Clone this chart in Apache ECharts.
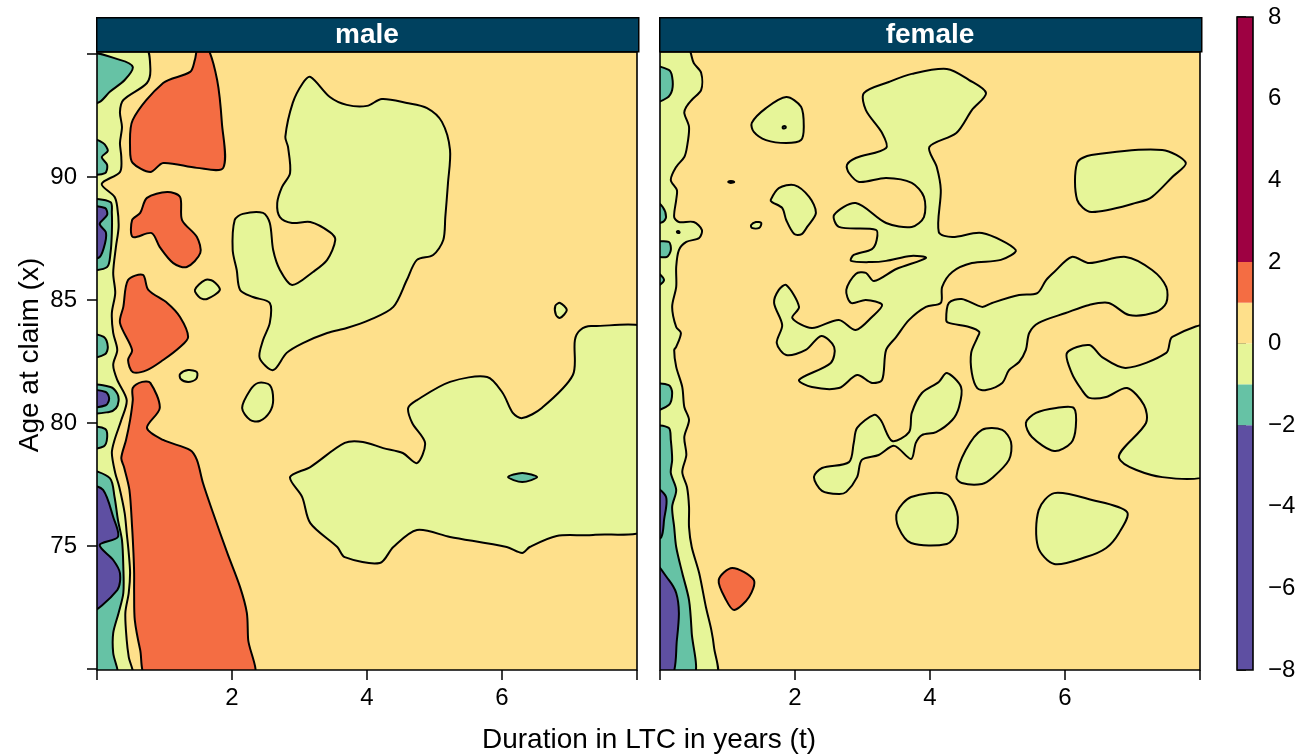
<!DOCTYPE html>
<html><head><meta charset="utf-8">
<script src="https://cdn.jsdelivr.net/npm/echarts@6/dist/echarts.min.js"></script>
<style>html,body{margin:0;padding:0;background:#fff}#c{width:1312px;height:756px}</style>
</head><body><div id="c"></div>
<script>
// ---------- levels / legend ----------
const levelBreaks = [-8, -2, -1, 0, 1, 2, 8];
const levelColors = ['#5E4FA2', '#66C2A5', '#E6F598', '#FEE08B', '#F46D43', '#9E0142'];
const colorbarTicks = [-8, -6, -4, -2, 0, 2, 4, 6, 8];
const panelNames = ['male', 'female'];
const xTickValues = [0, 2, 4, 6, 8];
const xLabelValues = [2, 4, 6];
const yTickValues = [70, 75, 80, 85, 90, 95];
const yLabelValues = [75, 80, 85, 90];
const xRange = [0, 8];
const yRange = [69.96, 95.08];

// ---------- male contour regions [t, age] ----------
const maleStripBand = [[-0.1,95.3],[0.71,95.3],[0.79,94.43],[0.74,93.82],[0.39,93.13],[0.34,92.64],[0.37,92.03],[0.34,91.38],[0.36,90.81],[0.34,90.20],[0.07,89.72],[0.26,89.19],[0.30,88.78],[0.32,87.97],[0.28,87.15],[0.24,86.10],[0.27,85.28],[0.22,84.47],[0.24,83.66],[0.30,82.97],[0.24,82.36],[0.30,81.75],[0.44,80.93],[0.36,80.12],[0.26,79.31],[0.22,78.78],[0.27,77.97],[0.33,77.40],[0.41,76.34],[0.44,75.53],[0.47,74.72],[0.49,73.90],[0.47,73.09],[0.42,72.28],[0.44,71.18],[0.47,70.49],[0.52,69.7],[-0.1,69.7]];
const maleTeal1 = [[-0.1,94.96],[0.34,94.76],[0.53,94.47],[0.41,93.94],[0.19,93.46],[0.04,93.05],[-0.1,93.01]];
const maleTeal2 = [[-0.1,91.54],[0.09,91.38],[0.16,91.06],[0.07,90.81],[0.15,90.49],[0.12,90.16],[-0.1,90.16]];
const maleTeal3 = [[-0.1,89.0],[0.20,88.98],[0.22,88.54],[0.22,87.72],[0.20,86.91],[0.15,86.34],[-0.1,86.30]];
const maleTeal4 = [[-0.1,83.58],[0.10,83.50],[0.16,83.10],[0.12,82.80],[-0.1,82.68]];
const maleTeal5 = [[-0.1,81.50],[0.20,81.46],[0.30,81.20],[0.32,80.90],[0.28,80.60],[0.18,80.45],[-0.1,80.45]];
const maleTeal6 = [[-0.1,79.80],[0.12,79.76],[0.15,79.40],[0.10,79.05],[-0.1,79.00]];
const maleTeal7 = [[-0.1,77.97],[0.19,77.76],[0.26,76.99],[0.31,76.06],[0.37,75.24],[0.39,74.15],[0.39,73.09],[0.32,72.28],[0.24,71.46],[0.24,70.65],[0.30,69.7],[-0.1,69.7]];
const malePurple1 = [[-0.1,88.74],[0.12,88.74],[0.15,88.46],[0.04,88.09],[0.13,87.76],[0.12,87.32],[0.04,86.75],[-0.1,86.71]];
const malePurple2 = [[-0.1,81.30],[0.13,81.26],[0.18,81.00],[0.13,80.72],[-0.1,80.68]];
const malePurple3 = [[-0.1,77.40],[0.09,77.28],[0.24,76.18],[0.31,75.37],[0.04,75.04],[0.24,74.43],[0.34,73.90],[0.30,73.21],[-0.1,72.40]];
const maleOrange1 = [[1.50,95.3],[1.63,95.3],[1.78,93.94],[1.85,92.20],[1.87,90.37],[1.48,90.37],[0.98,90.57],[0.79,90.20],[0.53,90.57],[0.49,91.10],[0.53,92.32],[0.98,93.82],[1.38,94.27],[1.45,94.76]];
const maleOrange2 = [[0.52,88.25],[0.64,88.54],[0.74,89.15],[1.04,89.39],[1.23,89.19],[1.26,88.25],[1.48,87.56],[1.53,86.91],[1.33,86.34],[1.13,86.50],[0.93,87.15],[0.81,87.72],[0.53,87.56]];
const maleOrange3 = [[0.46,85.81],[0.68,86.02],[0.76,85.41],[1.04,84.88],[1.23,84.31],[1.35,83.50],[1.23,83.09],[0.98,82.56],[0.74,82.15],[0.53,82.07],[0.46,82.56],[0.52,82.97],[0.34,84.07],[0.39,84.72]];
const maleOrange4 = [[0.67,81.67],[0.79,81.63],[0.93,80.61],[0.74,79.80],[0.98,79.31],[1.38,78.90],[1.48,78.50],[1.57,77.56],[1.72,76.34],[1.93,74.72],[2.12,73.33],[2.22,72.28],[2.24,71.18],[2.31,69.7],[0.74,69.7],[0.64,70.77],[0.56,71.99],[0.55,73.09],[0.55,73.90],[0.54,74.72],[0.52,75.77],[0.48,77.28],[0.40,78.21],[0.36,78.58],[0.43,79.31],[0.49,80.12],[0.53,80.93],[0.53,81.42]];
const maleBlob1 = [[1.45,85.41],[1.60,85.81],[1.72,85.77],[1.82,85.41],[1.63,85.04],[1.53,85.08]];
const maleBlob2 = [[1.23,81.99],[1.35,82.15],[1.48,82.07],[1.47,81.79],[1.35,81.67],[1.24,81.79]];
const maleBlob3 = [[2.15,80.61],[2.27,81.34],[2.39,81.63],[2.56,81.54],[2.61,80.93],[2.56,80.45],[2.41,80.08],[2.27,80.12]];
const maleBlob4 = [[6.79,84.76],[6.86,84.88],[6.96,84.59],[6.86,84.27],[6.80,84.39]];
const maleBigUpper = [[3.16,94.07],[3.45,93.25],[3.70,92.93],[4.00,92.89],[4.22,93.17],[4.59,93.01],[4.89,92.80],[5.11,92.24],[5.23,91.10],[5.20,89.76],[5.16,88.37],[5.13,87.44],[4.98,86.83],[4.74,86.63],[4.59,85.81],[4.39,84.72],[4.04,84.19],[3.70,83.86],[3.41,83.66],[3.05,83.25],[2.81,82.85],[2.61,82.15],[2.41,82.64],[2.46,83.37],[2.56,84.07],[2.56,84.88],[2.31,85.12],[2.12,85.41],[2.07,86.22],[2.01,87.03],[2.04,88.25],[2.16,88.50],[2.46,88.54],[2.56,88.13],[2.61,87.03],[2.71,86.22],[2.89,85.61],[3.20,86.14],[3.41,86.63],[3.53,87.44],[3.45,87.76],[3.16,88.17],[2.89,88.13],[2.71,88.37],[2.67,88.94],[2.74,89.59],[2.86,90.16],[2.83,91.22],[2.79,91.63],[2.90,93.01],[3.05,93.82]];
const maleBigLower = [[2.86,77.80],[3.16,78.21],[3.67,79.19],[3.94,79.23],[4.24,78.98],[4.53,78.78],[4.74,78.37],[4.86,79.19],[4.67,80.00],[4.61,80.61],[4.74,80.93],[5.23,81.67],[5.78,81.87],[6.01,81.22],[6.16,80.41],[6.30,80.20],[6.59,80.61],[7.05,81.95],[7.08,83.37],[7.16,83.78],[7.33,83.94],[8.2,83.66],[8.2,75.85],[7.35,75.45],[6.81,75.41],[6.41,74.96],[6.30,74.72],[6.07,74.96],[5.23,75.37],[4.74,75.65],[4.39,74.96],[4.19,74.31],[3.67,74.55],[3.56,74.96],[3.16,75.93],[3.04,76.99]];
const maleTealDiamond = [[6.09,77.80],[6.30,77.97],[6.52,77.80],[6.30,77.60]];

// ---------- female contour regions [t, age] ----------
const femaleStripBand = [[-0.1,95.3],[0.40,95.3],[0.50,94.63],[0.61,94.23],[0.61,93.54],[0.47,93.13],[0.39,92.85],[0.36,92.60],[0.43,92.03],[0.40,91.22],[0.36,90.81],[0.24,90.41],[0.16,89.88],[0.25,89.47],[0.24,89.07],[0.21,88.37],[0.28,88.17],[0.50,88.17],[0.62,87.85],[0.58,87.52],[0.39,87.36],[0.28,87.03],[0.24,86.34],[0.24,85.53],[0.18,84.72],[0.24,83.90],[0.31,83.66],[0.24,83.09],[0.21,82.97],[0.24,82.28],[0.33,81.46],[0.36,80.65],[0.43,80.12],[0.36,79.43],[0.39,78.70],[0.33,78.01],[0.40,77.40],[0.43,76.59],[0.43,75.77],[0.47,74.96],[0.58,73.90],[0.68,72.52],[0.76,71.59],[0.80,70.89],[0.83,69.7],[-0.1,69.7]];
const femaleTeal1 = [[-0.1,94.47],[0.13,94.35],[0.18,94.07],[0.18,93.54],[0.10,93.21],[-0.1,93.05]];
const femaleTeal2 = [[-0.1,89.07],[0.04,88.78],[0.09,88.37],[0.04,88.17],[-0.1,88.13]];
const femaleTeal3 = [[-0.1,87.30],[0.13,87.36],[0.16,87.03],[0.10,86.75],[-0.1,86.85]];
const femaleTeal4 = [[-0.1,86.22],[0.06,85.81],[-0.1,85.49]];
const femaleTeal5 = [[-0.1,81.54],[0.13,81.54],[0.18,81.22],[0.13,80.73],[-0.1,80.53]];
const femaleTeal6 = [[-0.1,79.80],[0.13,79.80],[0.16,79.31],[0.18,78.50],[0.16,77.97],[0.24,77.28],[0.18,76.59],[0.21,75.77],[0.24,74.96],[0.33,73.90],[0.43,72.80],[0.47,71.46],[0.50,69.7],[-0.1,69.7]];
const femaleTealSpeck = [[0.25,87.78],[0.28,87.80],[0.29,87.74],[0.26,87.73]];
const femalePurple1 = [[-0.1,77.40],[0.09,76.99],[0.06,76.06],[0.02,75.37],[-0.1,75.24]];
const femalePurple2 = [[-0.1,74.31],[0.13,73.62],[0.24,73.09],[0.28,72.28],[0.25,71.18],[0.18,69.7],[-0.1,69.7]];
const femaleOrange1 = [[0.87,73.62],[1.07,74.11],[1.39,73.62],[1.32,72.93],[1.10,72.40],[0.98,72.80]];
const femaleBlob1 = [[1.36,92.20],[1.57,92.80],[1.87,93.25],[2.09,92.85],[2.13,92.03],[2.09,91.50],[1.87,91.38],[1.57,91.50],[1.39,91.83]];
const femaleBlob1Dot = [[1.82,92.05],[1.86,92.06],[1.86,91.99],[1.82,91.98]];
const femaleDot = [[1.01,89.80],[1.05,89.84],[1.10,89.80],[1.05,89.76]];
const femaleSmall = [[1.35,88.05],[1.42,88.17],[1.50,88.13],[1.47,87.93],[1.36,87.93]];
const femaleBlob2 = [[1.64,89.07],[1.76,89.55],[1.99,89.67],[2.21,89.19],[2.31,88.54],[2.18,87.97],[2.10,87.68],[1.99,87.68],[1.87,88.25],[1.81,88.74],[1.66,88.98]];
const femaleBranch = [[3.02,93.41],[3.39,93.86],[3.73,94.19],[4.25,94.39],[4.58,93.94],[4.83,93.41],[4.62,92.72],[4.39,91.79],[3.99,91.22],[4.10,90.41],[4.16,89.47],[4.13,87.76],[4.33,87.56],[4.77,87.72],[5.27,87.03],[5.05,86.63],[4.62,86.50],[4.33,86.14],[4.18,85.53],[4.16,84.88],[3.94,84.72],[3.69,84.19],[3.50,83.50],[3.35,82.97],[3.29,81.75],[3.14,81.63],[2.92,81.95],[2.65,81.42],[2.25,81.46],[2.06,81.75],[2.53,82.44],[2.58,83.09],[2.39,83.54],[2.16,82.97],[1.87,82.76],[1.73,83.25],[1.81,83.98],[1.69,84.88],[1.76,85.41],[1.87,85.61],[2.06,84.72],[1.96,84.27],[2.25,83.86],[2.65,84.19],[2.90,83.78],[3.14,84.31],[3.29,84.80],[3.05,85.00],[2.83,84.88],[2.76,85.41],[2.90,86.06],[3.05,86.10],[3.17,85.77],[3.50,86.26],[3.94,86.71],[3.72,86.79],[3.35,86.59],[3.14,86.54],[2.83,86.59],[2.87,86.83],[3.14,87.07],[3.21,87.44],[3.20,87.85],[2.65,87.97],[2.58,88.46],[2.90,88.94],[3.35,88.13],[3.73,87.97],[3.91,88.37],[3.91,89.19],[3.73,89.76],[3.35,89.96],[2.95,89.80],[2.80,90.16],[2.77,90.49],[2.90,90.77],[3.35,91.18],[3.29,91.79],[3.05,92.72]];
const femaleTopRight = [[6.18,90.57],[6.39,90.89],[7.44,91.10],[7.79,90.57],[7.59,90.00],[7.29,89.19],[7.10,88.98],[6.39,88.58],[6.18,89.07]];
const femaleMidRight = [[4.24,84.19],[4.28,84.88],[4.47,85.04],[4.77,84.72],[4.92,84.88],[5.32,85.20],[5.59,85.28],[5.72,85.81],[5.84,86.14],[6.10,86.75],[6.36,86.50],[6.90,86.75],[7.29,86.22],[7.50,85.53],[7.50,84.88],[7.35,84.51],[6.95,84.39],[6.65,84.88],[6.36,84.80],[6.01,84.47],[5.61,84.07],[5.47,83.66],[5.42,82.97],[5.32,82.48],[5.17,82.15],[5.07,81.63],[4.83,81.34],[4.70,81.42],[4.62,82.03],[4.61,82.85],[4.70,83.46],[4.73,83.70],[4.58,83.90],[4.28,84.07]];
const femaleEdgeRight = [[6.03,82.85],[6.36,83.17],[6.55,82.68],[6.90,82.24],[7.50,82.85],[7.59,83.50],[8.2,83.90],[8.2,78.09],[7.44,77.80],[6.80,78.58],[7.20,80.00],[7.17,80.73],[6.92,81.42],[6.61,81.06],[6.36,81.02],[6.25,81.34],[6.10,82.03]];
const femaleTwin = [[3.44,79.27],[3.69,79.63],[3.73,80.41],[3.88,81.22],[4.13,81.67],[4.25,82.03],[4.46,81.46],[4.43,80.65],[4.33,80.12],[4.09,79.63],[3.88,79.51],[3.79,79.19],[3.72,78.54],[3.47,79.07],[3.24,78.70],[2.99,78.50],[2.92,77.80],[2.76,77.20],[2.65,77.11],[2.40,77.24],[2.28,77.80],[2.40,78.17],[2.80,78.41],[2.87,79.19],[2.92,79.80],[3.17,80.33],[3.27,80.12]];
const femaleBlob8 = [[4.39,77.80],[4.53,78.90],[4.77,79.72],[5.07,79.72],[5.20,79.23],[5.17,78.50],[4.92,77.76],[4.77,77.52],[4.47,77.56]];
const femaleBlob9 = [[5.42,80.00],[5.57,80.41],[5.87,80.61],[6.13,80.61],[6.16,79.84],[6.09,79.19],[5.84,78.86],[5.51,79.43]];
const femaleBlob10 = [[3.51,76.38],[3.72,76.99],[4.24,77.11],[4.40,76.38],[4.39,75.53],[4.25,75.08],[3.72,75.12],[3.53,75.77]];
const femaleBlob11 = [[5.61,76.46],[5.84,77.15],[6.40,76.87],[6.92,76.38],[6.80,75.53],[6.61,74.92],[6.31,74.55],[5.84,74.27],[5.60,74.96]];

// each layer: [lower break of its band, region]
const maleLayers = [
  [-1, maleStripBand],
  [-2, maleTeal1], [-2, maleTeal2], [-2, maleTeal3], [-2, maleTeal4], [-2, maleTeal5], [-2, maleTeal6], [-2, maleTeal7],
  [-8, malePurple1], [-8, malePurple2], [-8, malePurple3],
  [1, maleOrange1], [1, maleOrange2], [1, maleOrange3], [1, maleOrange4],
  [-1, maleBlob1], [-1, maleBlob2], [-1, maleBlob3], [-1, maleBlob4],
  [-1, maleBigUpper], [-1, maleBigLower], [-2, maleTealDiamond]
];
const femaleLayers = [
  [-1, femaleStripBand],
  [-2, femaleTeal1], [-2, femaleTeal2], [-2, femaleTeal3], [-2, femaleTeal4], [-2, femaleTeal5], [-2, femaleTeal6], [-2, femaleTealSpeck],
  [-8, femalePurple1], [-8, femalePurple2],
  [1, femaleOrange1],
  [-1, femaleBlob1], [-2, femaleBlob1Dot], [-1, femaleDot], [-1, femaleSmall], [-1, femaleBlob2],
  [-1, femaleBranch], [-1, femaleTopRight], [-1, femaleMidRight], [-1, femaleEdgeRight],
  [-1, femaleTwin], [-1, femaleBlob8], [-1, femaleBlob9], [-1, femaleBlob10], [-1, femaleBlob11]
];
const panelLayers = [maleLayers, femaleLayers];

// ---------- chart ----------
const FONT = '"Liberation Sans", Arial, Helvetica, sans-serif';
function bandColor(lo) { return levelColors[levelBreaks.indexOf(lo)]; }
function minusFmt(v) { return v < 0 ? '\u2212' + (-v) : String(v); }

const chart = echarts.init(document.getElementById('c'), null, {renderer: 'canvas'});
const gridBoxes = [
  {left: 97, top: 52, width: 540, height: 618},
  {left: 660, top: 52, width: 540, height: 618},
  {left: 1237, top: 17, width: 16, height: 653}
];
const xAxes = [], yAxes = [], series = [];
panelLayers.forEach((layers, p) => {
  xAxes.push({
    gridIndex: p, type: 'value', min: xRange[0], max: xRange[1],
    axisLine: {show: false}, splitLine: {show: false},
    axisTick: {show: true, customValues: xTickValues, length: 10, lineStyle: {color: '#000', width: 1.5}},
    axisLabel: {show: true, customValues: xLabelValues, margin: 16, color: '#000', fontSize: 24, fontFamily: FONT}
  });
  yAxes.push({
    gridIndex: p, type: 'value', min: yRange[0], max: yRange[1],
    axisLine: {show: false}, splitLine: {show: false},
    axisTick: {show: p === 0, customValues: yTickValues, length: 10, lineStyle: {color: '#000', width: 1.5}},
    axisLabel: {show: p === 0, customValues: yLabelValues, margin: 20, color: '#000', fontSize: 24, fontFamily: FONT}
  });
  series.push({
    type: 'custom', xAxisIndex: p, yAxisIndex: p, clip: true, silent: true, z: 2,
    data: layers.map((l, i) => [i]),
    renderItem: function (params, api) {
      const layer = layers[params.dataIndex];
      const pts = layer[1].map(pt => api.coord(pt));
      return {type: 'polygon', shape: {points: pts, smooth: 0.3},
        style: {fill: bandColor(layer[0]), stroke: '#000', lineWidth: 2}};
    }
  });
  series.push({
    type: 'custom', xAxisIndex: p, yAxisIndex: p, silent: true, z: 5,
    data: [[0]],
    renderItem: function (params) {
      const cs = params.coordSys;
      return {type: 'rect', shape: {x: cs.x, y: cs.y, width: cs.width, height: cs.height},
        style: {fill: null, stroke: '#000', lineWidth: 1.6}};
    }
  });
});
// colorbar
xAxes.push({gridIndex: 2, type: 'value', min: 0, max: 1, show: false});
yAxes.push({
  gridIndex: 2, type: 'value', position: 'right', min: levelBreaks[0], max: levelBreaks[levelBreaks.length - 1],
  interval: 2, axisLine: {show: false}, splitLine: {show: false},
  axisTick: {show: true, length: 9, lineStyle: {color: '#000', width: 1.5}},
  axisLabel: {margin: 15, color: '#000', fontSize: 24, fontFamily: FONT, formatter: minusFmt}
});
series.push({
  type: 'custom', xAxisIndex: 2, yAxisIndex: 2, silent: true, z: 2,
  data: levelColors.map((c, i) => [i]),
  renderItem: function (params, api) {
    const i = params.dataIndex;
    const a = api.coord([0, levelBreaks[i + 1]]);
    const b = api.coord([1, levelBreaks[i]]);
    return {type: 'rect', shape: {x: a[0], y: a[1], width: b[0] - a[0], height: b[1] - a[1]},
      style: {fill: levelColors[i], stroke: null}};
  }
});
series.push({
  type: 'custom', xAxisIndex: 2, yAxisIndex: 2, silent: true, z: 5,
  data: [[0]],
  renderItem: function (params) {
    const cs = params.coordSys;
    return {type: 'rect', shape: {x: cs.x, y: cs.y, width: cs.width, height: cs.height},
      style: {fill: null, stroke: '#000', lineWidth: 1.6}};
  }
});

const graphics = [];
panelNames.forEach((name, p) => {
  const g = gridBoxes[p];
  graphics.push({type: 'rect', left: g.left - 1, top: 17, shape: {width: g.width + 2, height: 34},
    style: {fill: '#00415F', stroke: '#000', lineWidth: 1.5}, z: 10});
  graphics.push({type: 'text', x: g.left + g.width / 2, y: 35, z: 11,
    style: {text: name, fill: '#fff', font: 'bold 28px ' + FONT, textAlign: 'center', textVerticalAlign: 'middle'}});
});
graphics.push({type: 'text', x: 30, y: 355, rotation: Math.PI / 2, z: 11,
  style: {text: 'Age at claim (x)', fill: '#000', font: '28px ' + FONT, textAlign: 'center', textVerticalAlign: 'middle'}});
graphics.push({type: 'text', x: 649, y: 740, z: 11,
  style: {text: 'Duration in LTC in years (t)', fill: '#000', font: '28px ' + FONT, textAlign: 'center', textVerticalAlign: 'middle'}});

chart.setOption({
  animation: false,
  backgroundColor: '#fff',
  grid: gridBoxes.map((g, i) => Object.assign({show: i < 2, backgroundColor: levelColors[3], borderWidth: 0, containLabel: false}, g)),
  xAxis: xAxes, yAxis: yAxes, series: series, graphic: graphics
});
</script></body></html>
